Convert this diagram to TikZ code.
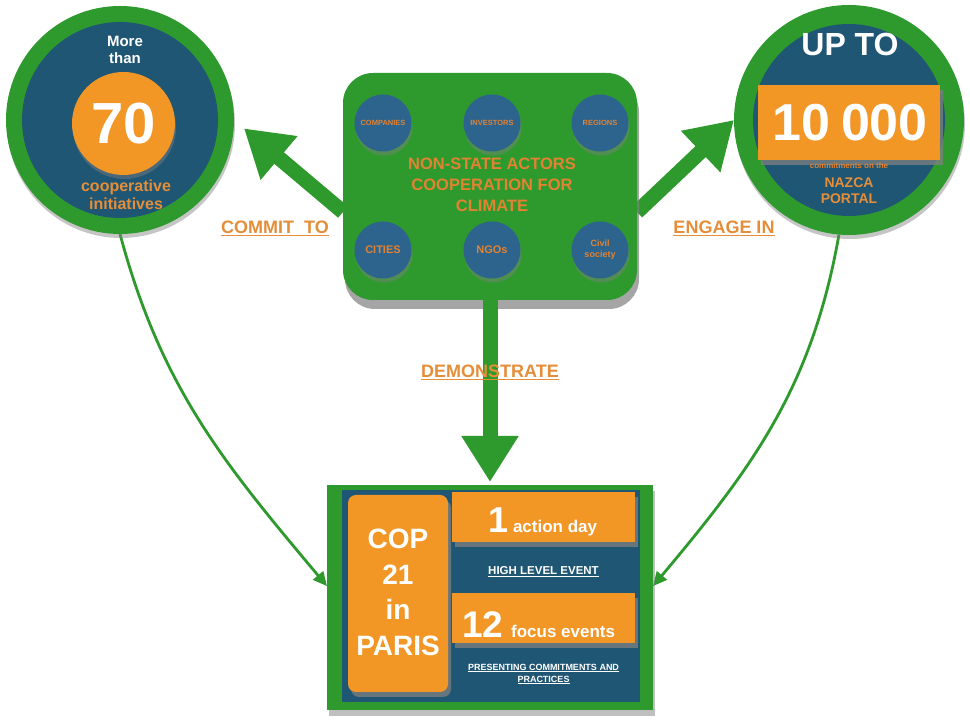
\documentclass[tikz,border=0pt]{standalone}
\usepackage{fontspec}
\setmainfont{Liberation Sans}
\usetikzlibrary{arrows.meta,shadows}
\pgfdeclarelayer{bg}
\pgfdeclarelayer{paper}
\pgfsetlayers{paper,bg,main}
\definecolor{grn}{RGB}{46,154,46}
\definecolor{navy}{RGB}{31,86,116}
\definecolor{cblue}{RGB}{44,100,142}
\definecolor{orng}{RGB}{242,150,38}
\definecolor{otxt}{RGB}{228,142,58}
\definecolor{otxtb}{RGB}{226,130,50}
\newcommand\fsz[2]{\fontsize{#1}{#2}\selectfont}
\begin{document}
\begin{tikzpicture}[x=1pt,y=1pt,
  every node/.style={inner sep=0pt, outer sep=0pt, font=\bfseries},
  disc/.style={circle, fill=#1},
  softshadow/.style={drop shadow={shadow xshift=1pt, shadow yshift=-4pt, opacity=.45}},
  barshadow/.style={drop shadow={shadow xshift=3pt, shadow yshift=-5pt, opacity=.75}},
  bigarrow/.style={draw=grn, line width=15pt, -{Triangle[length=46pt,width=54pt]}},
  thinarrow/.style={draw=grn, line width=2.8pt, -{Triangle[length=14pt,width=13pt]}},
  lbl/.style={text=otxt, font=\bfseries\fsz{18}{20}},
]
\begin{pgfonlayer}{paper}
\fill[white] (0,0) rectangle (970,722);
\end{pgfonlayer}
\useasboundingbox (0,0) rectangle (970,722);

% ---------- left circle ----------
\node[disc=grn, minimum size=228pt, softshadow] (lc) at (120,602) {};
\node[disc=navy, minimum size=196pt] (lci) at (lc) {};
\node[disc=orng, minimum size=103pt, softshadow] (lo) at (123.5,598.5) {};
\node[text=white, font=\bfseries\fsz{15}{17}, align=center] (more) at (125,672) {More\\than};
\node[text=white, font=\bfseries\fsz{58}{58}] (seventy) at (124,598) {70};
\node[text=otxt, font=\bfseries\fsz{16}{18}, align=center] (coop) at (126,527) {cooperative\\initiatives};

% ---------- right circle ----------
\node[disc=grn, minimum size=230pt, softshadow] (rc) at (849,602) {};
\node[disc=navy, minimum size=192pt] (rci) at (rc) {};
\node[text=white, font=\bfseries\fsz{32}{32}] (upto) at (850,678) {UP TO};
\node[fill=orng, minimum width=182pt, minimum height=75pt, barshadow] (ten) at (849,599.5) {};
\node[text=white, font=\bfseries\fsz{52}{52}] (tenk) at (850,599) {10\hspace{11pt}000};
\node[text=otxtb, font=\bfseries\fsz{8}{9}] (commit) at (849,556) {commitments on the};
\node[text=otxt, font=\bfseries\fsz{14}{16}, align=center] (nazca) at (849,531) {NAZCA\\PORTAL};

% ---------- centre box ----------
\node[fill=grn, rounded corners=30pt, minimum width=294pt, minimum height=227pt,
      drop shadow={shadow xshift=2pt, shadow yshift=-9pt, opacity=.7}] (cb) at (490,535.5) {};
\node[disc=cblue, minimum size=57pt, softshadow, text=otxtb, font=\bfseries\fsz{7.5}{8}] (c1) at (383,599) {COMPANIES};
\node[disc=cblue, minimum size=57pt, softshadow, text=otxtb, font=\bfseries\fsz{7.5}{8}] (c2) at (492,599) {INVESTORS};
\node[disc=cblue, minimum size=57pt, softshadow, text=otxtb, font=\bfseries\fsz{7.5}{8}] (c3) at (600,599) {REGIONS};
\node[disc=cblue, minimum size=57pt, softshadow, text=otxtb, font=\bfseries\fsz{11}{12}] (c4) at (383,472) {CITIES};
\node[disc=cblue, minimum size=57pt, softshadow, text=otxtb, font=\bfseries\fsz{11}{12}] (c5) at (492,472) {NGOs};
\node[disc=cblue, minimum size=57pt, softshadow, text=otxtb, font=\bfseries\fsz{9}{11}, align=center] (c6) at (600,472) {Civil\\society};
\node[text=otxtb, font=\bfseries\fsz{16.5}{20.8}, align=center] (title) at (492,537) {NON-STATE ACTORS\\COOPERATION FOR\\CLIMATE};

% ---------- bottom box ----------
\node[fill=grn, minimum width=326pt, minimum height=225pt,
      drop shadow={shadow xshift=2pt, shadow yshift=-6pt, opacity=.5}] (bb) at (490,124.5) {};
\node[fill=navy, minimum width=298pt, minimum height=212pt] (bi) at (491,126) {};
\node[fill=orng, rounded corners=8pt, minimum width=100pt, minimum height=197pt, barshadow] (cop) at (398,128.5) {};
\node[text=white, font=\bfseries\fsz{28}{35.5}, align=center] (copt) at (398,129.5) {COP\\21\\in\\PARIS};
\node[fill=orng, minimum width=183pt, minimum height=50pt, barshadow] (bar1) at (543.5,205) {};
\node[fill=orng, minimum width=183pt, minimum height=50pt, barshadow] (bar2) at (543.5,104) {};
\node[text=white, anchor=base west] (t1) at (488,189) {{\fsz{36}{36}1}\hspace{5pt}{\fsz{17}{20}action day}};
\node[text=white, anchor=base west] (t2) at (462,84) {{\fsz{37}{37}12}\hspace{8pt}{\fsz{17}{20}focus events}};
\node[text=white, font=\bfseries\fsz{11.5}{13}] (hle) at (543.5,150) {\underline{HIGH LEVEL EVENT}};
\node[text=white, font=\bfseries\fsz{9}{12}, align=center] (pres) at (543.5,48) {\underline{PRESENTING COMMITMENTS AND}\\\underline{PRACTICES}};

% ---------- connectors ----------
\coordinate (ls) at (343,510);
\coordinate (rs) at (637,510);
\begin{pgfonlayer}{bg}
\draw[bigarrow, shorten >=13pt] (ls) -- (lc.east);
\draw[bigarrow] (rs) -- (rc.west);
\draw[thinarrow] (lc.south) to[out=-75,in=130] (bb.176);
\draw[thinarrow] (rc.265) to[out=-100,in=50] (bb.4);
\end{pgfonlayer}
\draw[bigarrow, shorten >=3pt] (cb.south) -- (bb.north);

% ---------- connector labels ----------
\node[lbl] (l1) at (275,494) {\underline{COMMIT\ \ TO}};
\node[lbl] (l2) at (724,494) {\underline{ENGAGE IN}};
\node[lbl] (l3) at (490,350) {\underline{DEMONSTRATE}};
\end{tikzpicture}
\end{document}
